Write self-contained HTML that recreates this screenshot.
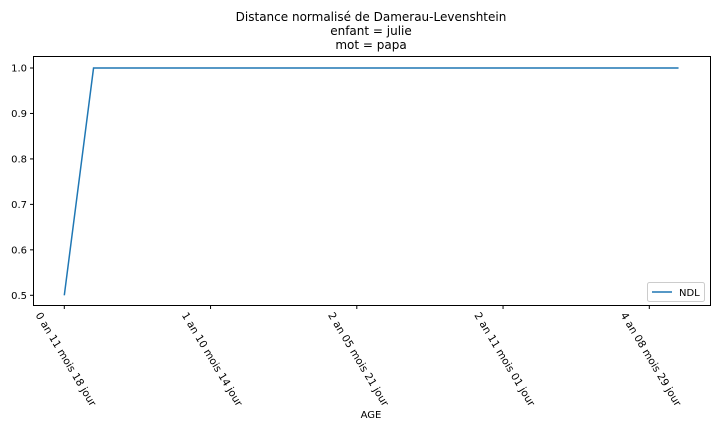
<!DOCTYPE html>
<html><head><meta charset="utf-8"><style>
body{margin:0;background:#fff}
svg text{font-family:"DejaVu Sans","Liberation Sans",sans-serif;fill:#000}
</style></head><body>
<svg id="chart" width="720" height="432">
<text x="371" y="21" font-size="12" text-anchor="middle">Distance normalisé de Damerau-Levenshtein</text>
<text x="371" y="35" font-size="12" text-anchor="middle">enfant = julie</text>
<text x="371" y="49" font-size="12" text-anchor="middle">mot = papa</text>
<g id="yaxis"></g><g id="xaxis"></g>
<polyline id="line" fill="none" stroke="#1f77b4" stroke-width="1.5"/>
<rect x="33.5" y="56.5" width="677" height="249" fill="none" stroke="#000" stroke-width="1"/>
<text x="371" y="418" font-size="10" text-anchor="middle">AGE</text>
<g>
<rect x="647.5" y="282.5" width="57" height="19" rx="2" fill="#fff" stroke="#ccc"/>
<line x1="652" y1="292" x2="672" y2="292" stroke="#1f77b4" stroke-width="1.5"/>
<text x="679" y="296" font-size="10">NDL</text>
</g>
</svg>
<script>
const values=[0.5,1,1,1,1,1,1,1,1,1,1,1,1,1,1,1,1,1,1,1,1,1];
const yTicks=[0.5,0.6,0.7,0.8,0.9,1.0];
const xTickIdx=[0,5,10,15,20];
const xTickLabels=["0 an 11 mois 18 jour","1 an 10 mois 14 jour","2 an 05 mois 21 jour","2 an 11 mois 01 jour","4 an 08 mois 29 jour"];
const NS="http://www.w3.org/2000/svg";
const xs=i=>64.3+i*29.25;
const ys=v=>295.3-(v-0.5)*454.6;
function mk(t,a,p){const e=document.createElementNS(NS,t);for(const k in a)e.setAttribute(k,a[k]);p.appendChild(e);return e;}
const ya=document.getElementById('yaxis'),xa=document.getElementById('xaxis');
yTicks.forEach(v=>{const y=ys(v);
 const l=mk('line',{x1:30,x2:33.5,y1:y,y2:y,stroke:'#000'},ya);
 
 
 const t=mk('text',{x:27,y:y+3.5,'font-size':10,'text-anchor':'end'},ya);t.textContent=v.toFixed(1);
 
 
});
xTickIdx.forEach((idx,k)=>{const x=xs(idx);
 const l=mk('line',{x1:x,x2:x,y1:305.5,y2:309,stroke:'#000'},xa);
 
 
 const sx=x-29,sy=315;
 const t=mk('text',{x:sx,y:sy,'font-size':10.4,transform:`rotate(59 ${sx} ${sy})`},xa);t.textContent=xTickLabels[k];
 
 
});
document.getElementById('line').setAttribute('points',values.map((v,i)=>xs(i)+','+ys(v)).join(' '));
</script>
</body></html>
